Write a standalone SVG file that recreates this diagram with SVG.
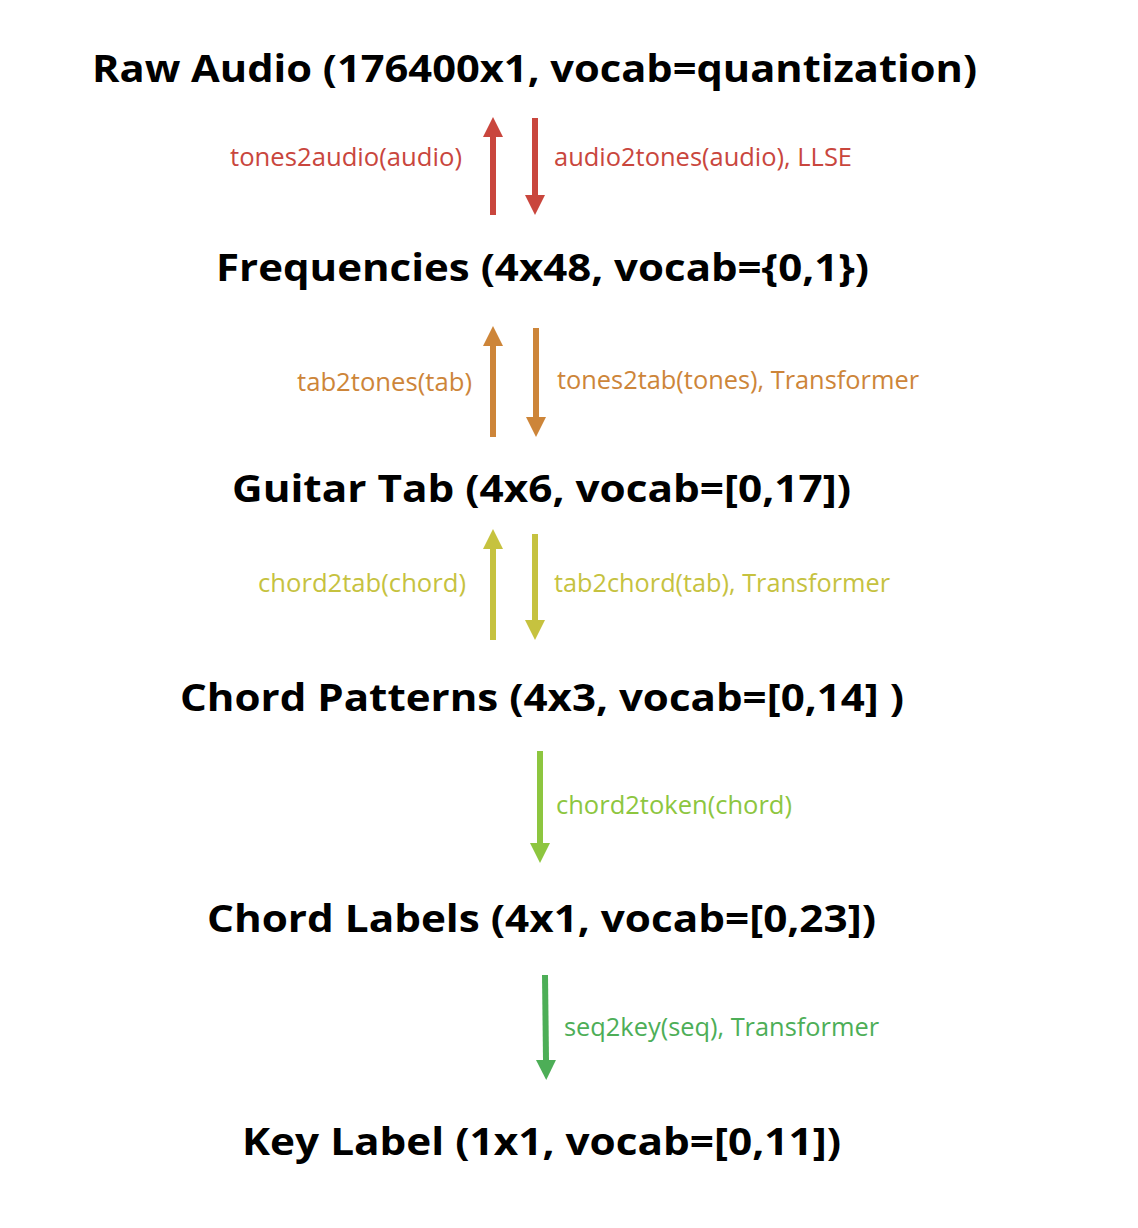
<svg xmlns="http://www.w3.org/2000/svg" width="1138" height="1228" viewBox="0 0 1138 1228">
<style>
.t{font-family:"Open Sans","Liberation Sans",sans-serif;font-weight:bold;font-size:38px;fill:#000}
.l{font-family:"Open Sans","Liberation Sans",sans-serif;font-size:25px}
.ar{stroke-width:6;fill:none}
</style>
<defs>
<marker id="mr" viewBox="0 0 20 20" refX="0" refY="10" markerWidth="20" markerHeight="20" markerUnits="userSpaceOnUse" orient="auto"><path d="M0,0 L20,10 L0,20 Z" fill="#C9463D"/></marker>
<marker id="mo" viewBox="0 0 20 20" refX="0" refY="10" markerWidth="20" markerHeight="20" markerUnits="userSpaceOnUse" orient="auto"><path d="M0,0 L20,10 L0,20 Z" fill="#CD8539"/></marker>
<marker id="my" viewBox="0 0 20 20" refX="0" refY="10" markerWidth="20" markerHeight="20" markerUnits="userSpaceOnUse" orient="auto"><path d="M0,0 L20,10 L0,20 Z" fill="#C6C23F"/></marker>
<marker id="ml" viewBox="0 0 20 20" refX="0" refY="10" markerWidth="20" markerHeight="20" markerUnits="userSpaceOnUse" orient="auto"><path d="M0,0 L20,10 L0,20 Z" fill="#8DC63F"/></marker>
<marker id="mg" viewBox="0 0 20 20" refX="0" refY="10" markerWidth="20" markerHeight="20" markerUnits="userSpaceOnUse" orient="auto"><path d="M0,0 L20,10 L0,20 Z" fill="#4DAE57"/></marker>
</defs>
<rect width="1138" height="1228" fill="#fff"/>
<g id="raw-audio"><text class="t" x="92" y="82" textLength="885" lengthAdjust="spacingAndGlyphs">Raw Audio (176400x1, vocab=quantization)</text></g>
<g id="frequencies"><text class="t" x="216" y="281" textLength="653" lengthAdjust="spacingAndGlyphs">Frequencies (4x48, vocab={0,1})</text></g>
<g id="guitar-tab"><text class="t" x="232" y="502" textLength="619" lengthAdjust="spacingAndGlyphs">Guitar Tab (4x6, vocab=[0,17])</text></g>
<g id="chord-patterns"><text class="t" x="180" y="711" textLength="724" lengthAdjust="spacingAndGlyphs">Chord Patterns (4x3, vocab=[0,14] )</text></g>
<g id="chord-labels"><text class="t" x="207" y="932" textLength="669" lengthAdjust="spacingAndGlyphs">Chord Labels (4x1, vocab=[0,23])</text></g>
<g id="key-label"><text class="t" x="242" y="1155" textLength="599" lengthAdjust="spacingAndGlyphs">Key Label (1x1, vocab=[0,11])</text></g>
<g id="connectors">
<path class="ar" d="M493,215 V137" stroke="#C9463D" marker-end="url(#mr)"/>
<path class="ar" d="M535,118 V195" stroke="#C9463D" marker-end="url(#mr)"/>
<text class="l" fill="#C9463D" x="230" y="166" textLength="232" lengthAdjust="spacingAndGlyphs">tones2audio(audio)</text>
<text class="l" fill="#C9463D" x="554" y="166" textLength="298" lengthAdjust="spacingAndGlyphs">audio2tones(audio), LLSE</text>
<path class="ar" d="M493,437 V346" stroke="#CD8539" marker-end="url(#mo)"/>
<path class="ar" d="M536,328 V417" stroke="#CD8539" marker-end="url(#mo)"/>
<text class="l" fill="#CD8539" x="297" y="391" textLength="175" lengthAdjust="spacingAndGlyphs">tab2tones(tab)</text>
<text class="l" fill="#CD8539" x="557" y="389" textLength="362" lengthAdjust="spacingAndGlyphs">tones2tab(tones), Transformer</text>
<path class="ar" d="M493,640 V549" stroke="#C6C23F" marker-end="url(#my)"/>
<path class="ar" d="M535,534 V620" stroke="#C6C23F" marker-end="url(#my)"/>
<text class="l" fill="#C6C23F" x="258" y="592" textLength="208" lengthAdjust="spacingAndGlyphs">chord2tab(chord)</text>
<text class="l" fill="#C6C23F" x="554" y="592" textLength="336" lengthAdjust="spacingAndGlyphs">tab2chord(tab), Transformer</text>
<path class="ar" d="M540,751 V843" stroke="#8DC63F" marker-end="url(#ml)"/>
<text class="l" fill="#8DC63F" x="556" y="814" textLength="236" lengthAdjust="spacingAndGlyphs">chord2token(chord)</text>
<path class="ar" d="M545,975 L546,1060" stroke="#4DAE57" marker-end="url(#mg)"/>
<text class="l" fill="#4DAE57" x="564" y="1036" textLength="315" lengthAdjust="spacingAndGlyphs">seq2key(seq), Transformer</text>
</g>
</svg>
